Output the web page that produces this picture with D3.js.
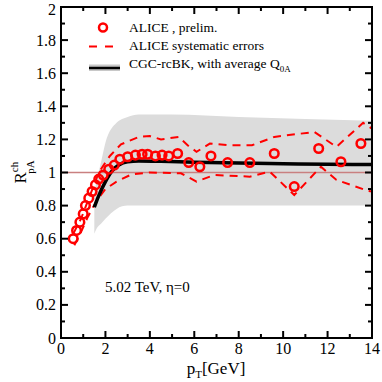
<!DOCTYPE html>
<html><head><meta charset="utf-8">
<script src="https://cdn.jsdelivr.net/npm/d3@7"></script>
<style>body{margin:0;background:#fff}svg{display:block}text{font-family:"Liberation Serif","Times New Roman",serif}</style>
</head><body><svg id="c" width="382" height="382"></svg>
<script>
const xTicks = [0,2,4,6,8,10,12,14];
const yTicks = [0,0.2,0.4,0.6,0.8,1,1.2,1.4,1.6,1.8,2];
const yTickLabels = ["0","0.2","0.4","0.6","0.8","1","1.2","1.4","1.6","1.8","2"];

const alicePt = [0.55,0.7,0.85,1.0,1.1,1.25,1.4,1.55,1.7,1.9,2.15,2.4,2.65,3.0,3.35,3.65,3.9,4.25,4.55,4.85,5.25,5.75,6.25,6.75,7.5,8.5,9.6,10.5,11.6,12.6,13.5];
const aliceR  = [0.60,0.65,0.70,0.75,0.80,0.845,0.885,0.925,0.96,0.985,1.02,1.045,1.08,1.095,1.105,1.11,1.11,1.10,1.105,1.10,1.115,1.06,1.035,1.10,1.06,1.06,1.115,0.915,1.145,1.065,1.175];

const sysUpPt = [0.55,0.9,1.3,1.7,2.2,2.7,3.5,4.0,4.5,5.3,5.7,6.1,6.7,7.5,8.6,9.6,11.4,12.4,13.6,14];
const sysUpR  = [0.63,0.72,0.86,1.0,1.1,1.17,1.215,1.22,1.20,1.215,1.165,1.125,1.175,1.165,1.165,1.215,1.245,1.155,1.30,1.265];
const sysLoPt = [0.6,0.9,1.2,1.6,2.0,2.5,3.2,4.0,5.4,6.1,6.9,8.5,9.4,10.5,11.7,12.4,13.8,14];
const sysLoR  = [0.56,0.64,0.73,0.83,0.9,0.945,0.99,1.0,0.995,0.945,0.985,0.975,1.005,0.864,1.035,0.955,0.89,0.885];

const cgcPt = [1.5,1.7,2.0,2.3,2.6,3.0,3.5,4.5,6,8,10,12,14];
const cgcR  = [0.79,0.86,0.945,1.01,1.045,1.065,1.07,1.068,1.062,1.057,1.053,1.05,1.048];
const bandPt = [1.5,1.6,1.8,2.0,2.5,3.0,3.5,5,8,14];
const bandHi = [0.88,0.95,1.06,1.18,1.30,1.335,1.35,1.35,1.335,1.313];
const bandLo = [0.63,0.66,0.69,0.72,0.78,0.80,0.80,0.80,0.80,0.80];

const svg = d3.select("#c");
const L=61,R=372,T=7,B=338;
const x = d3.scaleLinear().domain([0,14]).range([L,R]);
const y = d3.scaleLinear().domain([0,2]).range([B,T]);
const g = svg.append("g");

const band = bandPt.map((p,i)=>({p,hi:bandHi[i],lo:bandLo[i]}));
g.append("path").datum(band).attr("fill","#dcdcdc")
 .attr("d",d3.area().x(d=>x(d.p)).y0(d=>y(d.lo)).y1(d=>y(d.hi)).curve(d3.curveMonotoneX));

g.append("line").attr("x1",x(0)).attr("x2",x(14)).attr("y1",y(1)).attr("y2",y(1))
 .attr("stroke","#c98080").attr("stroke-width",1.3);

const line = d3.line().x(d=>x(d[0])).y(d=>y(d[1]));
[[sysUpPt,sysUpR],[sysLoPt,sysLoR]].forEach(([a,b])=>{
  g.append("path").datum(a.map((p,i)=>[p,b[i]])).attr("fill","none").attr("stroke","#ff0000")
   .attr("stroke-width",2).attr("stroke-dasharray","8,6").attr("d",line);
});

g.append("path").datum(cgcPt.map((p,i)=>[p,cgcR[i]])).attr("fill","none").attr("stroke","#000")
 .attr("stroke-width",3.5).attr("d",d3.line().x(d=>x(d[0])).y(d=>y(d[1])).curve(d3.curveMonotoneX));

g.selectAll("circle.pt").data(alicePt.map((p,i)=>[p,aliceR[i]])).enter().append("circle")
 .attr("cx",d=>x(d[0])).attr("cy",d=>y(d[1])).attr("r",4.3)
 .attr("fill","none").attr("stroke","#ff0000").attr("stroke-width",2.5);

const ax = svg.append("g");
const minorX = d3.range(0,14.01,1), minorY = d3.range(0,2.001,0.1);
minorX.forEach(v=>{const len = (Math.round(v)%2===0)?7:4;
  ax.append("line").attr("x1",x(v)).attr("x2",x(v)).attr("y1",B).attr("y2",B-len).attr("stroke","#000").attr("stroke-width",2);
  ax.append("line").attr("x1",x(v)).attr("x2",x(v)).attr("y1",T).attr("y2",T+len).attr("stroke","#000").attr("stroke-width",2);
});
minorY.forEach((v,i)=>{const len = (i%2===0)?7:4;
  ax.append("line").attr("y1",y(v)).attr("y2",y(v)).attr("x1",L).attr("x2",L+len).attr("stroke","#000").attr("stroke-width",2);
  ax.append("line").attr("y1",y(v)).attr("y2",y(v)).attr("x1",R).attr("x2",R-len).attr("stroke","#000").attr("stroke-width",2);
});
ax.append("rect").attr("x",L).attr("y",T).attr("width",R-L).attr("height",B-T)
 .attr("fill","none").attr("stroke","#000").attr("stroke-width",2);

xTicks.forEach(v=>ax.append("text").attr("x",x(v)).attr("y",B+16).attr("text-anchor","middle")
  .attr("font-size",16).text(String(v)));
yTicks.forEach((v,i)=>ax.append("text").attr("x",L-5).attr("y",Math.max(y(v)+5.5,15)).attr("text-anchor","end")
  .attr("font-size",16).text(yTickLabels[i]));

const xt = svg.append("text").attr("x",216).attr("y",374).attr("text-anchor","middle").attr("font-size",17);
xt.append("tspan").text("p");
xt.append("tspan").attr("font-size",11).attr("dy",4).text("T");
xt.append("tspan").attr("dy",-4).text("[GeV]");

const yt = svg.append("text").attr("transform","translate(26,172) rotate(-90)").attr("text-anchor","middle").attr("font-size",17);
yt.append("tspan").text("R");
yt.append("tspan").attr("font-size",11).attr("dy",-8).text("ch");
yt.append("tspan").attr("font-size",11).attr("dx",-12).attr("dy",16).text("pA");

const an = svg.append("text").attr("x",105).attr("y",292).attr("font-size",15);
an.append("tspan").text("5.02 TeV, ");
an.append("tspan").text("\u03B7=0");

const lg = svg.append("g");
lg.append("circle").attr("cx",103).attr("cy",27.5).attr("r",4).attr("fill","none").attr("stroke","#ff0000").attr("stroke-width",2.5);
lg.append("text").attr("x",129).attr("y",32).attr("font-size",13.5).text("ALICE , prelim.");
lg.append("line").attr("x1",89).attr("x2",120).attr("y1",46.5).attr("y2",46.5).attr("stroke","#ff0000").attr("stroke-width",2).attr("stroke-dasharray","8,8");
lg.append("text").attr("x",129).attr("y",50).attr("font-size",13.5).text("ALICE systematic errors");
lg.append("rect").attr("x",89).attr("y",64.5).attr("width",31).attr("height",6.5).attr("fill","#c8c8c8");
lg.append("line").attr("x1",89).attr("x2",120).attr("y1",68).attr("y2",68).attr("stroke","#000").attr("stroke-width",2.5);
const t3 = lg.append("text").attr("x",129).attr("y",68).attr("font-size",13.5);
t3.append("tspan").text("CGC-rcBK, with average Q");
t3.append("tspan").attr("font-size",9).attr("dy",4).text("0A");
</script></body></html>
